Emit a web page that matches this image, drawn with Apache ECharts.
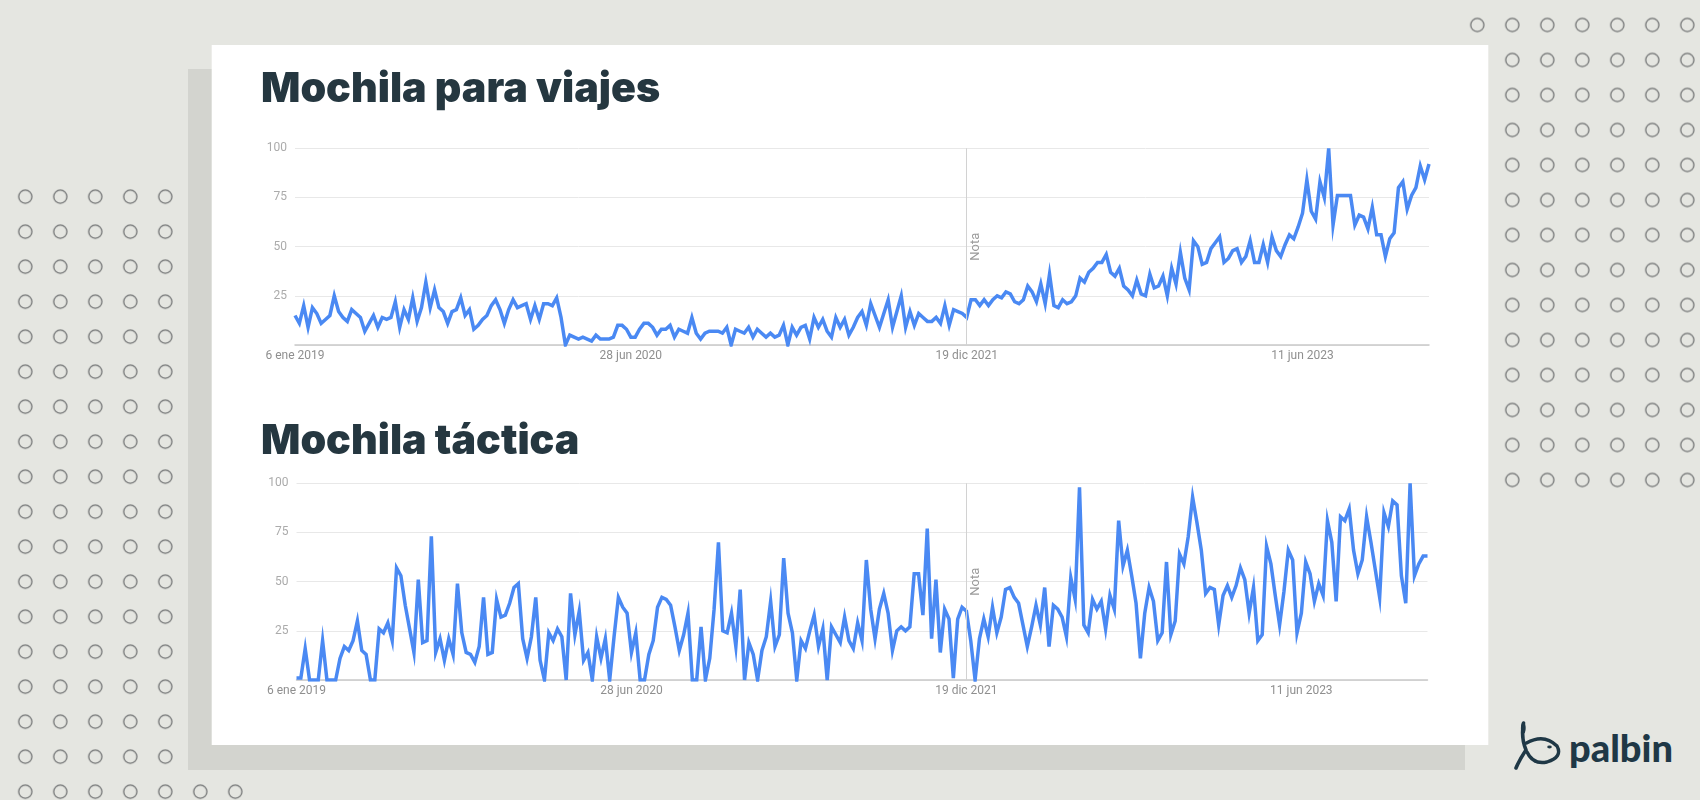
<!DOCTYPE html>
<html><head><meta charset="utf-8">
<script src="https://cdn.jsdelivr.net/npm/echarts@6/dist/echarts.min.js"></script>
<style>
html,body{margin:0;padding:0;width:1700px;height:800px;overflow:hidden;background:#e5e6e1;}
#bg{position:absolute;left:0;top:0;}
#chart{position:absolute;left:0;top:0;width:1700px;height:800px;}
</style></head>
<body>
<svg id="bg" width="1700" height="800" xmlns="http://www.w3.org/2000/svg">
  <defs>
    <pattern id="dotsL" x="7.8" y="179.2" width="35" height="35" patternUnits="userSpaceOnUse">
      <circle cx="17.5" cy="17.5" r="6.6" fill="none" stroke="#6d6f70" stroke-width="1.25"/>
    </pattern>
    <pattern id="dotsR" x="1459.8" y="7.5" width="35" height="35" patternUnits="userSpaceOnUse">
      <circle cx="17.5" cy="17.5" r="6.6" fill="none" stroke="#6d6f70" stroke-width="1.25"/>
    </pattern>
  </defs>
  <rect x="7.8" y="179.2" width="245" height="630" fill="url(#dotsL)"/>
  <rect x="1459.8" y="7.5" width="245" height="490" fill="url(#dotsR)"/>
  <rect x="188" y="69" width="1277" height="701" fill="#d3d4cf"/>
  <rect x="211.7" y="45" width="1276.6" height="700" fill="#ffffff"/>
  <g stroke="#1f3846" fill="none" stroke-linecap="round" stroke-linejoin="round">
    <path d="M1523.5,723 C1521.5,734 1523,743 1526,750 C1522,756 1518.5,762 1516,768" stroke-width="3.6"/>
    <ellipse cx="1523.3" cy="728" rx="2.4" ry="6" fill="#1f3846" stroke="none"/>
    <path d="M1526.5,743 Q1544,733 1557,746 Q1563,757 1547,762 Q1533,765 1527,752" stroke-width="3.4"/>
    <ellipse cx="1549.5" cy="747" rx="2.3" ry="1.4" fill="#1f3846" stroke="none"/>
  </g>
  <text x="1569" y="762" font-family="Lato" font-weight="900" font-size="38" fill="#1f3846">palbin</text>
</svg>
<div id="chart"></div>
<script>
// Weekly Google Trends index, 6 ene 2019 .. 31 dic 2023 (261 weeks)
const tickIdx = [0, 77, 154, 231];
const tickLabels = ['6 ene 2019', '28 jun 2020', '19 dic 2021', '11 jun 2023'];
const notaIdx = 154;
const yTicks = [0, 25, 50, 75, 100];

const viajes = [
15,11,20,9,19,16,11,13,15,25,
17,14,12,18,16,14,7,11,15,9,
14,13,14,22,9,18,13,24,12,19,
32,19,28,19,17,11,17,18,24,15,
18,8,10,13,15,20,23,18,11,18,
23,19,20,21,13,20,13,21,21,20,
24,14,0,5,4,3,4,3,2,5,
3,3,3,4,10,10,8,4,4,8,
11,11,9,5,8,8,10,4,8,7,
6,14,6,3,6,7,7,7,6,9,
0,8,7,6,9,4,8,6,4,6,
4,5,10,0,9,5,9,10,3,14,
9,13,7,4,14,9,13,5,9,14,
17,10,21,15,9,16,23,9,17,25,
9,17,10,16,14,12,12,14,11,20,
10,18,17,16,14,23,23,20,23,20,
23,25,24,27,26,22,21,23,30,27,
22,31,21,36,20,19,23,21,22,25,
34,32,37,39,42,42,46,37,35,39,
30,28,25,33,26,25,36,29,30,35,
25,39,31,47,34,28,53,50,41,42,
49,52,55,42,44,48,49,42,45,53,
42,42,51,42,55,48,45,51,56,54,
60,67,84,68,64,83,75,100,61,76,
76,76,76,61,66,65,59,70,56,56,
45,54,57,80,83,69,76,80,91,84,92
];

const tactica = [
1,1,16,0,0,0,20,0,0,0,
11,17,15,20,30,15,13,0,0,26,
24,29,20,57,53,38,26,14,51,19,
20,73,14,21,10,21,13,49,24,14,
13,9,17,42,13,14,41,32,33,39,
47,49,21,11,22,42,10,0,24,20,
26,22,0,44,23,35,10,14,0,22,
11,21,0,22,42,37,34,14,24,0,
0,13,20,37,42,41,38,27,15,23,
34,0,0,27,0,11,36,70,25,24,
34,17,46,0,19,13,0,15,22,40,
17,23,62,34,24,0,20,16,25,33,
17,26,0,27,23,19,32,20,16,29,
20,61,36,21,36,44,34,15,25,27,
25,27,54,54,33,77,21,51,14,36,
31,1,31,37,35,20,0,21,31,22,
37,24,32,46,47,42,39,28,17,27,
38,28,47,17,38,36,32,22,52,41,
98,28,24,41,36,40,26,43,36,81,
58,66,53,39,11,34,47,40,20,24,
60,23,30,64,59,73,93,80,66,44,
47,46,28,43,48,42,48,57,51,34,
47,20,23,68,59,43,28,45,66,61,
24,34,60,54,40,49,43,81,70,40,
83,81,87,66,54,61,83,70,56,42,
85,78,91,89,53,39,100,53,59,63,63
];

const weeks = viajes.map((_, i) => String(i));
const titles = ['Mochila para viajes', 'Mochila táctica'];

const chart = echarts.init(document.getElementById('chart'), null, {renderer: 'canvas'});

function xAxis(gi) {
  return {
    type: 'category', gridIndex: gi, data: weeks, boundaryGap: false,
    axisTick: {show: false},
    axisLine: {show: true, lineStyle: {color: '#c9c9c9', width: 1.5}},
    axisLabel: {
      interval: (i) => tickIdx.indexOf(i) >= 0,
      formatter: (v, i) => { const k = tickIdx.indexOf(Number(v)); return k >= 0 ? tickLabels[k] : ''; },
      color: '#8f8f8f', fontFamily: 'Roboto', fontSize: 12, margin: 5
    },
    splitLine: {show: false}
  };
}
function yAxis(gi) {
  return {
    type: 'value', gridIndex: gi, min: yTicks[0], max: yTicks[yTicks.length - 1], interval: 25,
    axisLine: {show: false}, axisTick: {show: false},
    axisLabel: {formatter: (v) => v === 0 ? '' : String(v), color: '#ababab', fontFamily: 'Roboto', fontSize: 12, margin: 8},
    splitLine: {lineStyle: {color: '#e8e8e8', width: 1}}
  };
}
function lineSeries(gi, data) {
  return {
    type: 'line', xAxisIndex: gi, yAxisIndex: gi, data: data,
    showSymbol: false, symbol: 'none', smooth: false,
    lineStyle: {color: '#4a89f3', width: 3.5, join: 'miter'},
    z: 3, animation: false,
    markLine: {
      silent: true, symbol: 'none', animation: false,
      lineStyle: {color: '#d2d2d2', width: 1, type: 'solid'},
      label: {show: true, formatter: 'Nota', position: 'insideMiddleBottom', color: '#9b9b9b', fontFamily: 'Roboto', fontSize: 13, distance: 3},
      data: [{xAxis: notaIdx}]
    }
  };
}

const titleStyle = {fontFamily: 'Inter', fontWeight: 900, fontSize: 41.2, color: '#253740'};
chart.setOption({
  backgroundColor: 'transparent',
  animation: false,
  title: [
    {text: titles[0], left: 261, top: 69, padding: 0, textStyle: titleStyle},
    {text: titles[1], left: 261, top: 421, padding: 0, textStyle: titleStyle}
  ],
  grid: [
    {left: 295, top: 148.3, width: 1134, height: 196.7},
    {left: 296.5, top: 483.3, width: 1131, height: 196.7}
  ],
  xAxis: [xAxis(0), xAxis(1)],
  yAxis: [yAxis(0), yAxis(1)],
  series: [lineSeries(0, viajes), lineSeries(1, tactica)]
});
</script>
</body></html>
